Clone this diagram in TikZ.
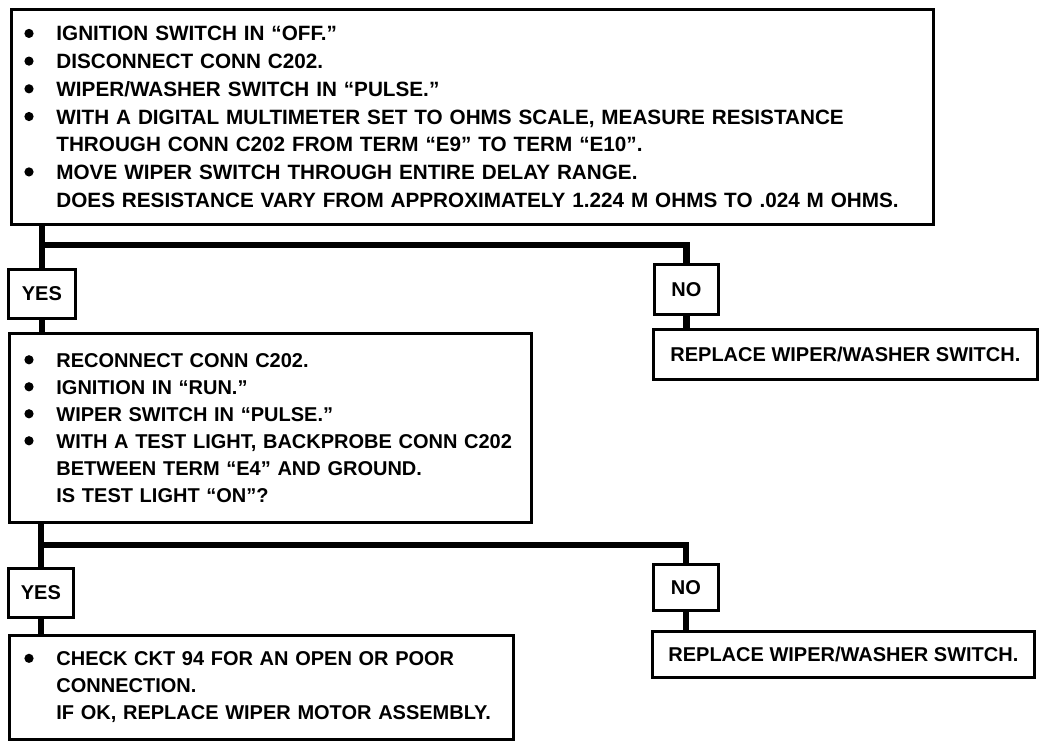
\documentclass[tikz,border=0pt]{standalone}
\usepackage{fontspec}
\setmainfont{Liberation Sans}
\newcommand\bdot{\makebox[32pt][l]{\raisebox{2.9pt}{\tikz\fill[black] (0,0) circle (4.6pt);}}}
\newcommand\bl[1]{\mbox{\bdot#1}\\}
\newcommand\cl[1]{\mbox{\hspace*{32pt}#1}\\}
\newcommand\el[1]{\mbox{\hspace*{32pt}#1}}
\tikzset{
  box/.style={draw=black, line width=2.8pt, anchor=north west, inner ysep=0pt,
    align=left, font=\fontsize{20}{27}\selectfont\bfseries},
  bigbox/.style={box, font=\fontsize{20.7}{27.7}\selectfont\bfseries},
  tag/.style={draw=black, line width=2.8pt, anchor=north west, inner sep=0pt,
    align=center, font=\fontsize{20}{24}\selectfont\bfseries},
  conn/.style={draw=black, line width=6.5pt, line join=miter}
}
\begin{document}
\begin{tikzpicture}[x=1pt,y=-1pt]
\fill[white] (0,0) rectangle (1056,746);
\useasboundingbox (0,0) rectangle (1056,746);

\node[bigbox, inner xsep=13pt, text width=896pt, minimum height=215pt] (q1) at (10,8) {%
\bl{IGNITION SWITCH IN “OFF.”}%
\bl{DISCONNECT CONN C202.}%
\bl{WIPER/WASHER SWITCH IN “PULSE.”}%
\bl{WITH A DIGITAL MULTIMETER SET TO OHMS SCALE, MEASURE RESISTANCE}%
\cl{THROUGH CONN C202 FROM TERM “E9” TO TERM “E10”.}%
\bl{MOVE WIPER SWITCH THROUGH ENTIRE DELAY RANGE.}%
\el{DOES RESISTANCE VARY FROM APPROXIMATELY 1.224 M OHMS TO .024 M OHMS.}};

\node[tag, minimum width=67pt, minimum height=49pt] (yes1) at (7,268) {YES};
\node[tag, minimum width=64pt, minimum height=50pt] (no1) at (653,263) {NO};
\node[tag, minimum width=384pt, minimum height=50pt] (rep1) at (652,328) {REPLACE WIPER/WASHER SWITCH.};

\node[box, inner xsep=15pt, text width=492pt, minimum height=189pt] (q2) at (8,332) {%
\bl{RECONNECT CONN C202.}%
\bl{IGNITION IN “RUN.”}%
\bl{WIPER SWITCH IN “PULSE.”}%
\bl{WITH A TEST LIGHT, BACKPROBE CONN C202}%
\cl{BETWEEN TERM “E4” AND GROUND.}%
\el{IS TEST LIGHT “ON”?}};

\node[tag, minimum width=65pt, minimum height=49pt] (yes2) at (7,567) {YES};
\node[tag, minimum width=65pt, minimum height=46pt] (no2) at (652,563) {NO};
\node[tag, minimum width=382pt, minimum height=46pt] (rep2) at (651,630) {REPLACE WIPER/WASHER SWITCH.};

\node[box, inner xsep=15pt, text width=474pt, minimum height=104pt] (ans) at (8,634) {%
\bl{CHECK CKT 94 FOR AN OPEN OR POOR}%
\cl{CONNECTION.}%
\el{IF OK, REPLACE WIPER MOTOR ASSEMBLY.}};

\coordinate (b1) at (yes1.north |- 0,245);
\coordinate (b2) at (yes2.north |- 0,545);

\draw[conn] (q1.south -| yes1.north) -- (yes1.north);
\draw[conn] (b1) -| (no1.north);
\draw[conn] (yes1.south) -- (q2.north -| yes1.south);
\draw[conn] (no1.south) -- (rep1.north -| no1.south);

\draw[conn] (q2.south -| yes2.north) -- (yes2.north);
\draw[conn] (b2) -| (no2.north);
\draw[conn] (yes2.south) -- (ans.north -| yes2.south);
\draw[conn] (no2.south) -- (rep2.north -| no2.south);
\end{tikzpicture}
\end{document}
